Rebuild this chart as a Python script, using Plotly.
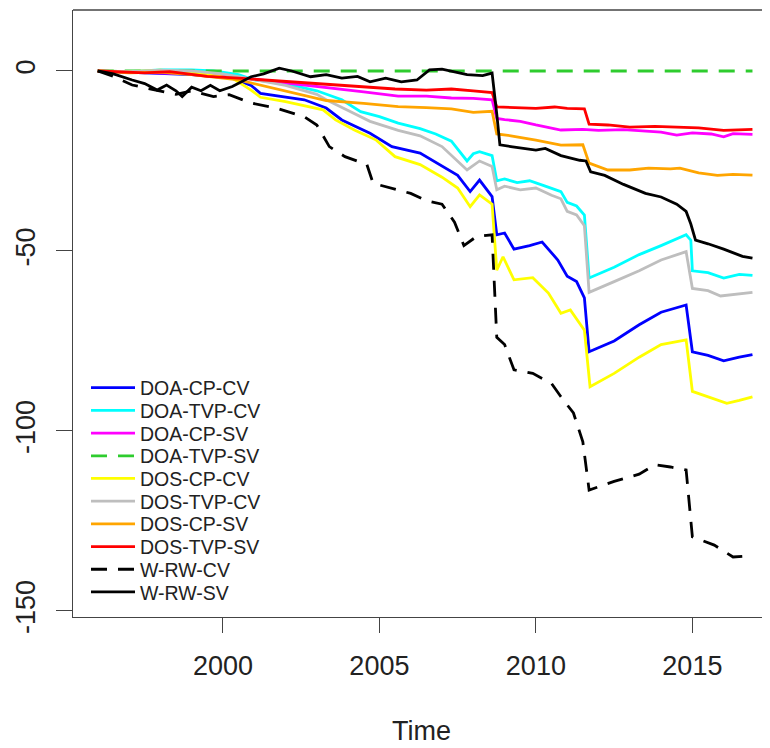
import plotly.graph_objects as go

# ---- data ----
names = ["DOA-CP-CV", "DOA-TVP-CV", "DOA-CP-SV", "DOA-TVP-SV", "DOS-CP-CV",
         "DOS-TVP-CV", "DOS-CP-SV", "DOS-TVP-SV", "W-RW-CV", "W-RW-SV"]
colors = ["#0000FF", "#00FFFF", "#FF00FF", "#2ECC2E", "#FFFF00",
          "#BEBEBE", "#FFA500", "#FF0000", "#000000", "#000000"]
dashes = ["solid", "solid", "solid", "16px,11px", "solid",
          "solid", "solid", "solid", "16px,11px", "solid"]

doa_cp_cv_t = [1996.0, 1997.0, 1998.0, 1999.0, 2000.3, 2000.9, 2001.2, 2002.6, 2003.3, 2003.8,
               2004.7, 2005.4, 2006.3, 2007.0, 2007.5, 2007.9, 2008.2, 2008.6, 2008.75, 2009.0,
               2009.3, 2009.8, 2010.2, 2010.7, 2011.0, 2011.3, 2011.55, 2011.7, 2012.5, 2013.3,
               2014.0, 2014.8, 2015.0, 2015.5, 2016.0, 2016.5, 2016.92]
doa_cp_cv_v = [0.0, -0.3, -0.5, -1.0, -2.0, -4.0, -6.2, -8.0, -10.3, -13.6,
               -17.3, -21.0, -22.8, -26.5, -29.0, -33.5, -30.3, -34.9, -45.5, -45.0,
               -49.5, -48.5, -47.5, -52.5, -57.0, -58.5, -63.0, -78.0, -75.0, -70.5,
               -67.0, -65.0, -78.0, -79.0, -80.5, -79.5, -78.8]

doa_tvp_cv_t = [1996.0, 1997.0, 1998.0, 1999.0, 1999.7, 2000.5, 2001.0, 2002.0, 2003.0, 2003.8,
                2004.4, 2005.0, 2005.6, 2006.3, 2006.8, 2007.3, 2007.8, 2008.0, 2008.2, 2008.6,
                2008.75, 2009.0, 2009.4, 2009.8, 2010.3, 2010.8, 2011.0, 2011.3, 2011.55, 2011.7,
                2012.5, 2013.3, 2014.0, 2014.8, 2014.95, 2015.0, 2015.5, 2016.0, 2016.5, 2016.92]
doa_tvp_cv_v = [0.0, -0.2, 0.3, 0.3, 0.0, -1.0, -2.5, -3.5, -5.5, -8.0,
                -11.3, -12.7, -14.5, -16.0, -17.5, -19.5, -25.0, -23.0, -22.4, -23.5,
                -30.5, -30.0, -31.0, -30.5, -32.0, -33.5, -36.5, -37.5, -40.0, -57.5,
                -54.5, -51.0, -48.5, -45.5, -47.0, -55.5, -56.0, -57.5, -56.5, -56.8]

doa_cp_sv_t = [1996.0, 1997.5, 1999.0, 2000.5, 2001.5, 2002.5, 2003.3, 2004.5, 2005.6, 2006.5,
               2007.3, 2008.0, 2008.6, 2008.75, 2009.0, 2009.5, 2010.0, 2010.8, 2011.5, 2012.0,
               2012.8, 2013.5, 2014.0, 2014.5, 2015.0, 2015.6, 2016.0, 2016.3, 2016.92]
doa_cp_sv_v = [0.0, -0.3, -0.8, -1.8, -2.8, -3.6, -4.6, -5.8, -7.0, -7.0,
               -7.5, -7.6, -8.0, -13.2, -13.5, -14.0, -15.0, -16.4, -16.2, -16.5,
               -16.3, -16.8, -17.0, -17.8, -17.2, -17.5, -18.3, -17.4, -17.6]

doa_tvp_sv_t = [1996.0, 2016.92]
doa_tvp_sv_v = [0.0, 0.0]

dos_cp_cv_t = [1996.0, 1997.0, 1998.0, 1999.0, 2000.3, 2000.9, 2001.2, 2002.0, 2003.2, 2003.6,
               2004.2, 2004.9, 2005.5, 2006.3, 2007.0, 2007.5, 2007.9, 2008.2, 2008.6, 2008.75,
               2008.95, 2009.3, 2009.9, 2010.4, 2010.8, 2011.1, 2011.55, 2011.73, 2012.5, 2013.3,
               2014.0, 2014.8, 2015.0, 2015.5, 2016.1, 2016.5, 2016.92]
dos_cp_cv_v = [0.0, -0.2, 0.2, -0.5, -2.0, -5.3, -7.3, -8.5, -10.8, -13.6,
               -16.4, -19.2, -23.8, -26.0, -29.5, -32.5, -37.7, -34.4, -37.0, -55.3,
               -51.6, -58.0, -57.4, -61.7, -67.3, -66.4, -72.0, -87.7, -84.0, -79.5,
               -76.0, -74.7, -89.0, -90.5, -92.3, -91.5, -90.5]

dos_tvp_cv_t = [1996.0, 1997.0, 1998.0, 1999.0, 2000.0, 2001.0, 2002.0, 2003.0, 2003.3, 2004.0,
                2004.7, 2005.6, 2006.3, 2007.0, 2007.8, 2008.2, 2008.6, 2008.75, 2009.0, 2009.5,
                2010.0, 2010.5, 2010.8, 2011.0, 2011.3, 2011.55, 2011.7, 2012.5, 2013.3, 2014.0,
                2014.8, 2015.0, 2015.5, 2015.9, 2016.5, 2016.92]
dos_tvp_cv_v = [0.0, -0.2, 0.2, 0.0, -0.8, -2.5, -4.0, -6.5, -8.0, -11.0,
                -14.0, -16.5, -18.0, -21.0, -27.5, -25.0, -26.5, -33.0, -32.0, -33.0,
                -32.5, -34.5, -35.5, -39.0, -40.0, -43.0, -61.5, -58.5, -55.5, -52.5,
                -50.2, -60.4, -61.0, -62.5, -62.0, -61.5]

dos_cp_sv_t = [1996.0, 1997.0, 1998.0, 1999.0, 2000.5, 2001.0, 2002.0, 2003.3, 2004.5, 2005.6,
               2006.5, 2007.3, 2008.0, 2008.6, 2008.75, 2009.2, 2010.0, 2010.8, 2011.5, 2011.7,
               2012.3, 2013.0, 2013.6, 2014.3, 2014.6, 2015.2, 2015.8, 2016.3, 2016.92]
dos_cp_sv_v = [0.0, -0.5, -0.3, -1.0, -2.5, -3.5, -5.5, -8.2, -9.0, -9.9,
               -10.2, -10.5, -11.5, -11.2, -17.5, -18.0, -19.2, -20.6, -20.5, -25.6,
               -27.5, -27.5, -27.0, -27.2, -27.0, -28.3, -29.0, -28.7, -28.9]

dos_tvp_sv_t = [1996.0, 1997.0, 1997.5, 1998.3, 1998.8, 1999.5, 2000.5, 2001.5, 2002.5, 2003.5,
                2004.5, 2005.5, 2006.5, 2007.3, 2008.0, 2008.6, 2008.75, 2009.2, 2010.0, 2010.6,
                2011.0, 2011.55, 2011.7, 2012.3, 2013.0, 2013.8, 2014.5, 2015.2, 2016.0, 2016.92]
dos_tvp_sv_v = [0.0, -0.3, -0.5, -0.2, -0.8, -1.5, -2.0, -2.6, -3.2, -4.0,
                -4.6, -5.0, -5.3, -5.0, -5.5, -6.0, -10.0, -10.2, -10.4, -10.0,
                -10.4, -10.5, -14.8, -15.0, -15.6, -15.4, -15.6, -15.8, -16.5, -16.2]

w_rw_cv_t = [1996.0, 1996.5, 1997.1, 1997.8, 1998.5, 1999.0, 1999.7, 2000.2, 2000.9, 2001.7,
             2002.6, 2003.0, 2003.4, 2003.9, 2004.6, 2004.8, 2005.4, 2006.0, 2006.5, 2007.0,
             2007.4, 2007.7, 2008.1, 2008.6, 2008.75, 2009.0, 2009.3, 2009.9, 2010.5, 2010.8,
             2011.2, 2011.5, 2011.7, 2012.5, 2013.3, 2013.8, 2014.3, 2014.8, 2015.0, 2015.7,
             2016.3, 2016.92]
w_rw_cv_v = [0.0, -1.5, -3.9, -5.3, -6.5, -5.5, -7.1, -6.6, -8.9, -10.3,
             -12.7, -15.0, -21.0, -23.8, -26.0, -31.2, -32.5, -34.0, -36.0, -37.0,
             -42.0, -48.5, -46.0, -45.5, -74.0, -76.0, -83.0, -84.0, -86.8, -90.5,
             -95.0, -103.0, -116.4, -114.0, -112.0, -109.4, -110.0, -110.8, -129.4, -131.7,
             -135.0, -134.6]

w_rw_sv_t = [1996.0, 1996.5, 1997.1, 1997.5, 1997.9, 1998.2, 1998.5, 1998.7, 1999.0, 1999.3,
             1999.6, 1999.9, 2000.3, 2000.6, 2000.9, 2001.3, 2001.8, 2002.2, 2002.8, 2003.3,
             2003.8, 2004.3, 2004.7, 2005.2, 2005.7, 2006.2, 2006.6, 2007.0, 2007.4, 2007.8,
             2008.3, 2008.6, 2008.75, 2008.85, 2009.2, 2009.6, 2010.0, 2010.3, 2010.8, 2011.4,
             2011.6, 2011.75, 2012.2, 2012.8, 2013.5, 2014.0, 2014.5, 2014.8, 2014.95, 2015.1,
             2015.5, 2016.0, 2016.3, 2016.6, 2016.92]
w_rw_sv_v = [0.0, -0.8, -2.5, -3.5, -5.3, -3.9, -5.5, -7.1, -4.5, -5.5,
             -4.0, -5.5, -4.3, -3.0, -1.6, -0.8, 0.8, 0.0, -1.6, -1.0,
             -2.0, -1.5, -3.0, -2.0, -3.0, -2.5, 0.3, 0.5, -0.3, -1.0,
             -1.3, -0.6, -12.0, -20.5, -21.0, -21.5, -22.0, -21.5, -23.5, -24.8,
             -25.0, -28.0, -29.0, -31.5, -34.0, -35.0, -37.0, -39.0, -42.5, -47.0,
             -48.0, -49.5, -50.5, -51.5, -52.0]

series_t = [doa_cp_cv_t, doa_tvp_cv_t, doa_cp_sv_t, doa_tvp_sv_t, dos_cp_cv_t,
            dos_tvp_cv_t, dos_cp_sv_t, dos_tvp_sv_t, w_rw_cv_t, w_rw_sv_t]
series_v = [doa_cp_cv_v, doa_tvp_cv_v, doa_cp_sv_v, doa_tvp_sv_v, dos_cp_cv_v,
            dos_tvp_cv_v, dos_cp_sv_v, dos_tvp_sv_v, w_rw_cv_v, w_rw_sv_v]

x_ticks = [2000, 2005, 2010, 2015]
y_ticks = [0, -50, -100, -150]
y_tick_labels = ["0", "-50", "-100", "-150"]

# ---- figure ----
# the page body adds ~8px offset, so the figure is slightly smaller than the window
W, H = 762, 740
ML, MR, MT, MB = 65, 0, 2, 131
plot_h = H - MT - MB
plot_w = W - ML - MR

FONT = "Liberation Sans, Arial, Helvetica, sans-serif"

fig = go.Figure()
layout_legends = {}
for i, (nm, c, d, t, v) in enumerate(zip(names, colors, dashes, series_t, series_v)):
    key = "legend" if i == 0 else f"legend{i + 1}"
    fig.add_trace(go.Scatter(
        x=t, y=v, mode="lines", name=nm,
        line=dict(color=c, width=2.8, dash=d),
        legend=key,
    ))
    py = 380 + 22.7 * i   # in figure coordinates
    layout_legends[key] = dict(
        x=13 / plot_w, xanchor="left",
        y=(H - MB - py) / plot_h, yanchor="middle",
        bgcolor="rgba(0,0,0,0)", borderwidth=0,
        font=dict(family=FONT, size=19.5, color="#222"),
        itemwidth=44, tracegroupgap=0,
    )

axis_line = "#444"
fig.update_layout(
    width=W, height=H,
    margin=dict(l=ML, r=MR, t=MT, b=MB, pad=0),
    plot_bgcolor="white", paper_bgcolor="white",
    showlegend=True,
    font=dict(family=FONT, size=27, color="#222"),
    xaxis=dict(
        range=[1995.21, 2017.48], tickvals=x_ticks,
        ticks="outside", ticklen=15, tickwidth=1.3, tickcolor=axis_line,
        showline=True, linecolor=axis_line, linewidth=1.3, mirror=False,
        showgrid=False, zeroline=False,
        tickfont=dict(family=FONT, size=27, color="#222"),
        ticklabelstandoff=9,
        title=dict(text="Time", font=dict(family=FONT, size=27, color="#222"), standoff=41),
        automargin=False,
    ),
    yaxis=dict(
        range=[-151.67, 16.94], tickvals=y_ticks, ticktext=y_tick_labels,
        tickangle=-90,
        ticks="outside", ticklen=16, tickwidth=1.3, tickcolor=axis_line,
        showline=True, linecolor=axis_line, linewidth=1.3, mirror=False,
        showgrid=False, zeroline=False,
        tickfont=dict(family=FONT, size=27, color="#222"),
        ticklabelstandoff=10,
        automargin=False,
    ),
    shapes=[dict(type="line", xref="paper", yref="paper", x0=0, x1=1, y0=1, y1=1,
                 line=dict(color=axis_line, width=1.3))],
    **layout_legends,
)

fig.write_html("out.html")
